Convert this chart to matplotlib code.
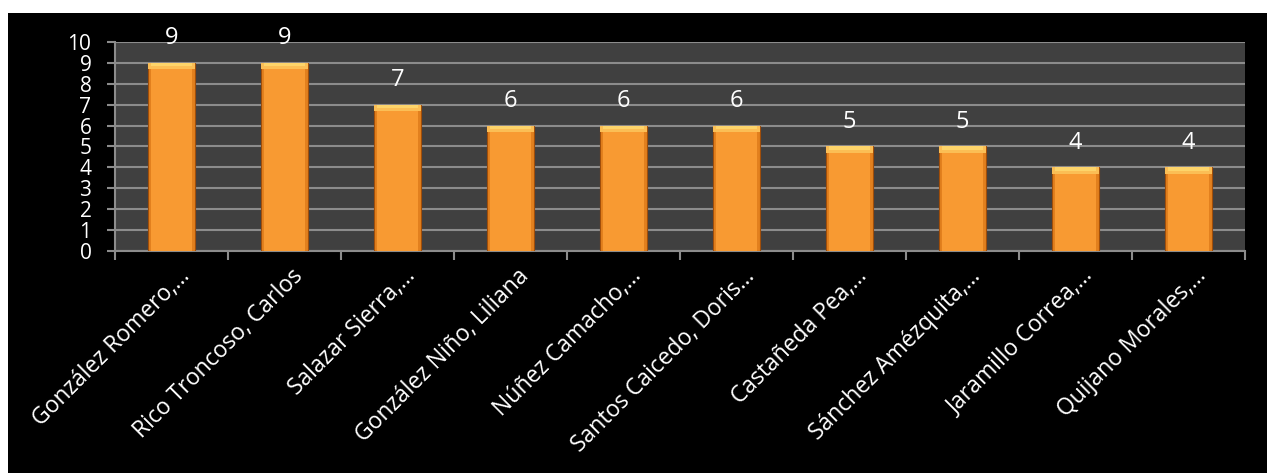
import matplotlib
matplotlib.use("Agg")
import matplotlib.pyplot as plt
from matplotlib.patches import Rectangle
from matplotlib.transforms import ScaledTranslation
import numpy as np

categories = ["González Romero,…", "Rico Troncoso, Carlos", "Salazar Sierra,…",
              "González Niño, Liliana", "Núñez Camacho,…", "Santos Caicedo, Doris…",
              "Castañeda Pea,…", "Sánchez Amézquita,…", "Jaramillo Correa,…",
              "Quijano Morales,…"]
values = [9, 9, 7, 6, 6, 6, 5, 5, 4, 4]
yticks = list(range(0, 11))

plt.rcParams['font.family'] = ['Open Sans', 'DejaVu Sans']

W, H = 1267, 473
fig = plt.figure(figsize=(W / 100, H / 100), dpi=100, facecolor='white')
# black chart area
bg = Rectangle((8 / W, 0), 1 - 8 / W, 1 - 13 / H, transform=fig.transFigure,
               facecolor='black', edgecolor='none', zorder=-10)
fig.patches.append(bg)

left, right, top, bottom = 115, 1245, 42, 251
ax = fig.add_axes([left / W, 1 - bottom / H, (right - left) / W, (bottom - top) / H])
ax.set_zorder(5)
ax.set_facecolor('#404040')

x = np.arange(len(categories))
ax.bar(x, values, width=0.41, color='#E2801E', edgecolor='#A04E0A', linewidth=0.8, zorder=3)
ax.bar(x, values, width=0.37, color='#F89A32', edgecolor='none', zorder=3.5)
# lighter bevel on top of each bar
ax.bar(x, [0.3] * len(values), bottom=[v - 0.3 for v in values], width=0.41,
       color='#FBBE55', edgecolor='none', zorder=4)
ax.bar(x, [0.15] * len(values), bottom=[v - 0.15 for v in values], width=0.36,
       color='#FDD46A', edgecolor='none', zorder=4.5)

for xi, v in zip(x, values):
    ax.annotate(str(v), (xi, v), xytext=(0, 9), textcoords='offset points',
                ha='center', va='bottom', color='white', fontsize=17)

ax.set_xlim(-0.5, len(categories) - 0.5)
ax.set_ylim(0, 10)
ax.set_yticks(yticks)
ax.set_yticklabels([str(t) for t in yticks], color='white', fontsize=15)
ax.yaxis.grid(True, color='#8C8C8C', linewidth=1.5, zorder=1)
ax.set_axisbelow(True)

ax.set_xticks(np.arange(-0.5, len(categories), 1.0), minor=False)
ax.set_xticklabels([])
ax.set_xticks(x, minor=True)
ax.set_xticklabels(categories, minor=True, rotation=45, ha='right', va='top',
                   rotation_mode='anchor', color='white', fontsize=16.5)
ax.tick_params(axis='x', which='minor', length=0, pad=9.5)
ax.tick_params(axis='x', which='major', length=6.5, color='#8C8C8C', width=1.5)
ax.tick_params(axis='y', length=6, color='#8C8C8C', width=1.5, pad=11)

shift = ScaledTranslation(6 / 100, 0, fig.dpi_scale_trans)
for lab in ax.get_xticklabels(minor=True):
    lab.set_transform(lab.get_transform() + shift)

for s in ['top', 'right']:
    ax.spines[s].set_visible(False)
for s in ['left', 'bottom']:
    ax.spines[s].set_color('#8C8C8C')
    ax.spines[s].set_linewidth(1.5)

fig.savefig('out.png', dpi=100, facecolor='white')
